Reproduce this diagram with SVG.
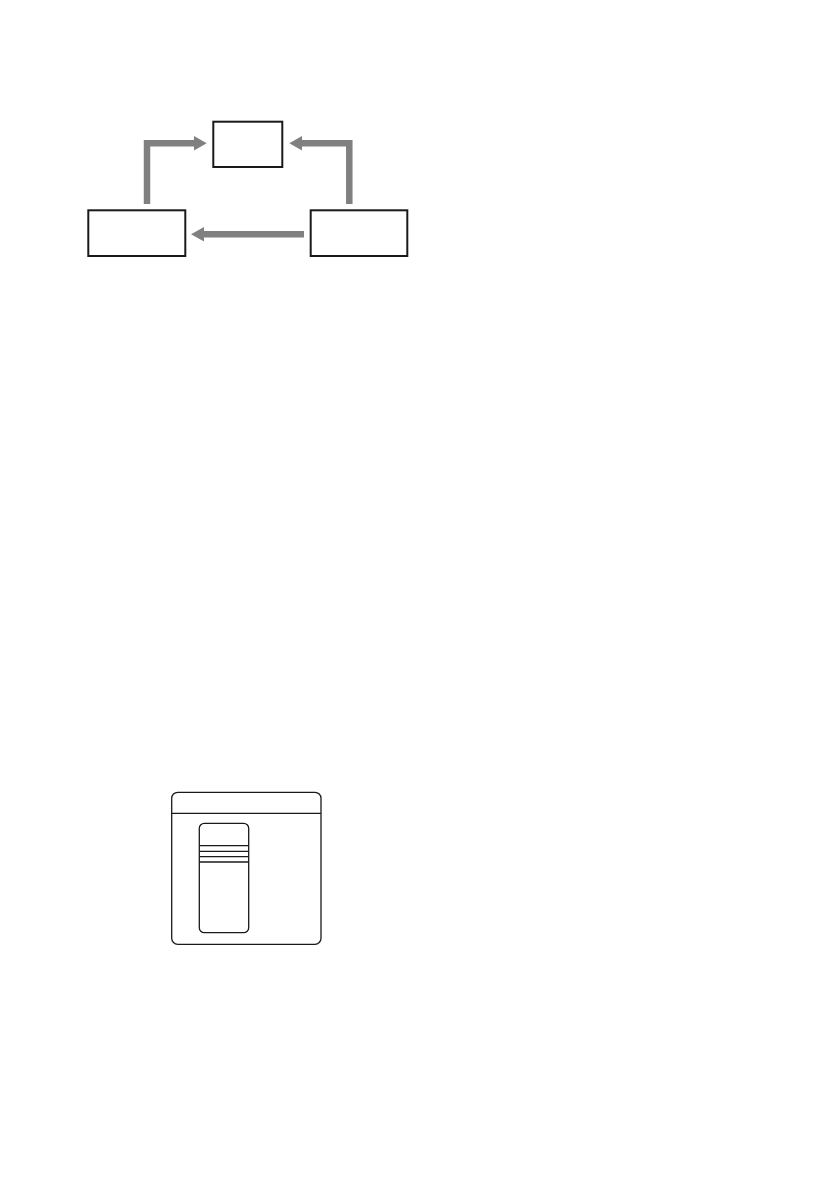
<svg xmlns="http://www.w3.org/2000/svg" width="840" height="1190" viewBox="0 0 840 1190">
  <defs>
    <style>
      .box { fill: #ffffff; stroke: #1a1a1a; stroke-width: 2; }
      .conn { fill: none; stroke: #808080; stroke-width: 6.5; }
      .head { fill: #808080; stroke: none; }
      .thin { fill: none; stroke: #1a1a1a; stroke-width: 1.3; }
    </style>
  </defs>
  <rect width="840" height="1190" fill="#ffffff"/>
  <g id="connectors">
    <polyline class="conn" points="147,204 147,143.3 196,143.3"/>
    <polygon class="head" points="194,136 206.7,143.3 194,150.6"/>
    <polyline class="conn" points="349.3,204 349.3,143.3 300,143.3"/>
    <polygon class="head" points="302,136 289.3,143.3 302,150.6"/>
    <line class="conn" x1="304" y1="234.3" x2="202" y2="234.3"/>
    <polygon class="head" points="204,227 191,234.3 204,241.6"/>
  </g>
  <g id="node-top">
    <rect class="box" x="213.3" y="121.7" width="69" height="45.3"/>
  </g>
  <g id="node-left">
    <rect class="box" x="88.3" y="210.3" width="97" height="45.7"/>
  </g>
  <g id="node-right">
    <rect class="box" x="310.7" y="210.3" width="96.6" height="45.7"/>
  </g>
  <g id="panel">
    <rect class="thin" x="171.7" y="792.3" width="149.3" height="152" rx="6" ry="6"/>
    <line class="thin" x1="171.7" y1="813.3" x2="321" y2="813.3"/>
    <rect class="thin" x="199.3" y="823.3" width="49.4" height="109.4" rx="5" ry="5"/>
    <line class="thin" x1="199.3" y1="845.7" x2="248.7" y2="845.7"/>
    <line class="thin" x1="199.3" y1="851.3" x2="248.7" y2="851.3"/>
    <line class="thin" x1="199.3" y1="856.7" x2="248.7" y2="856.7"/>
    <line class="thin" x1="199.3" y1="862" x2="248.7" y2="862"/>
  </g>
</svg>
